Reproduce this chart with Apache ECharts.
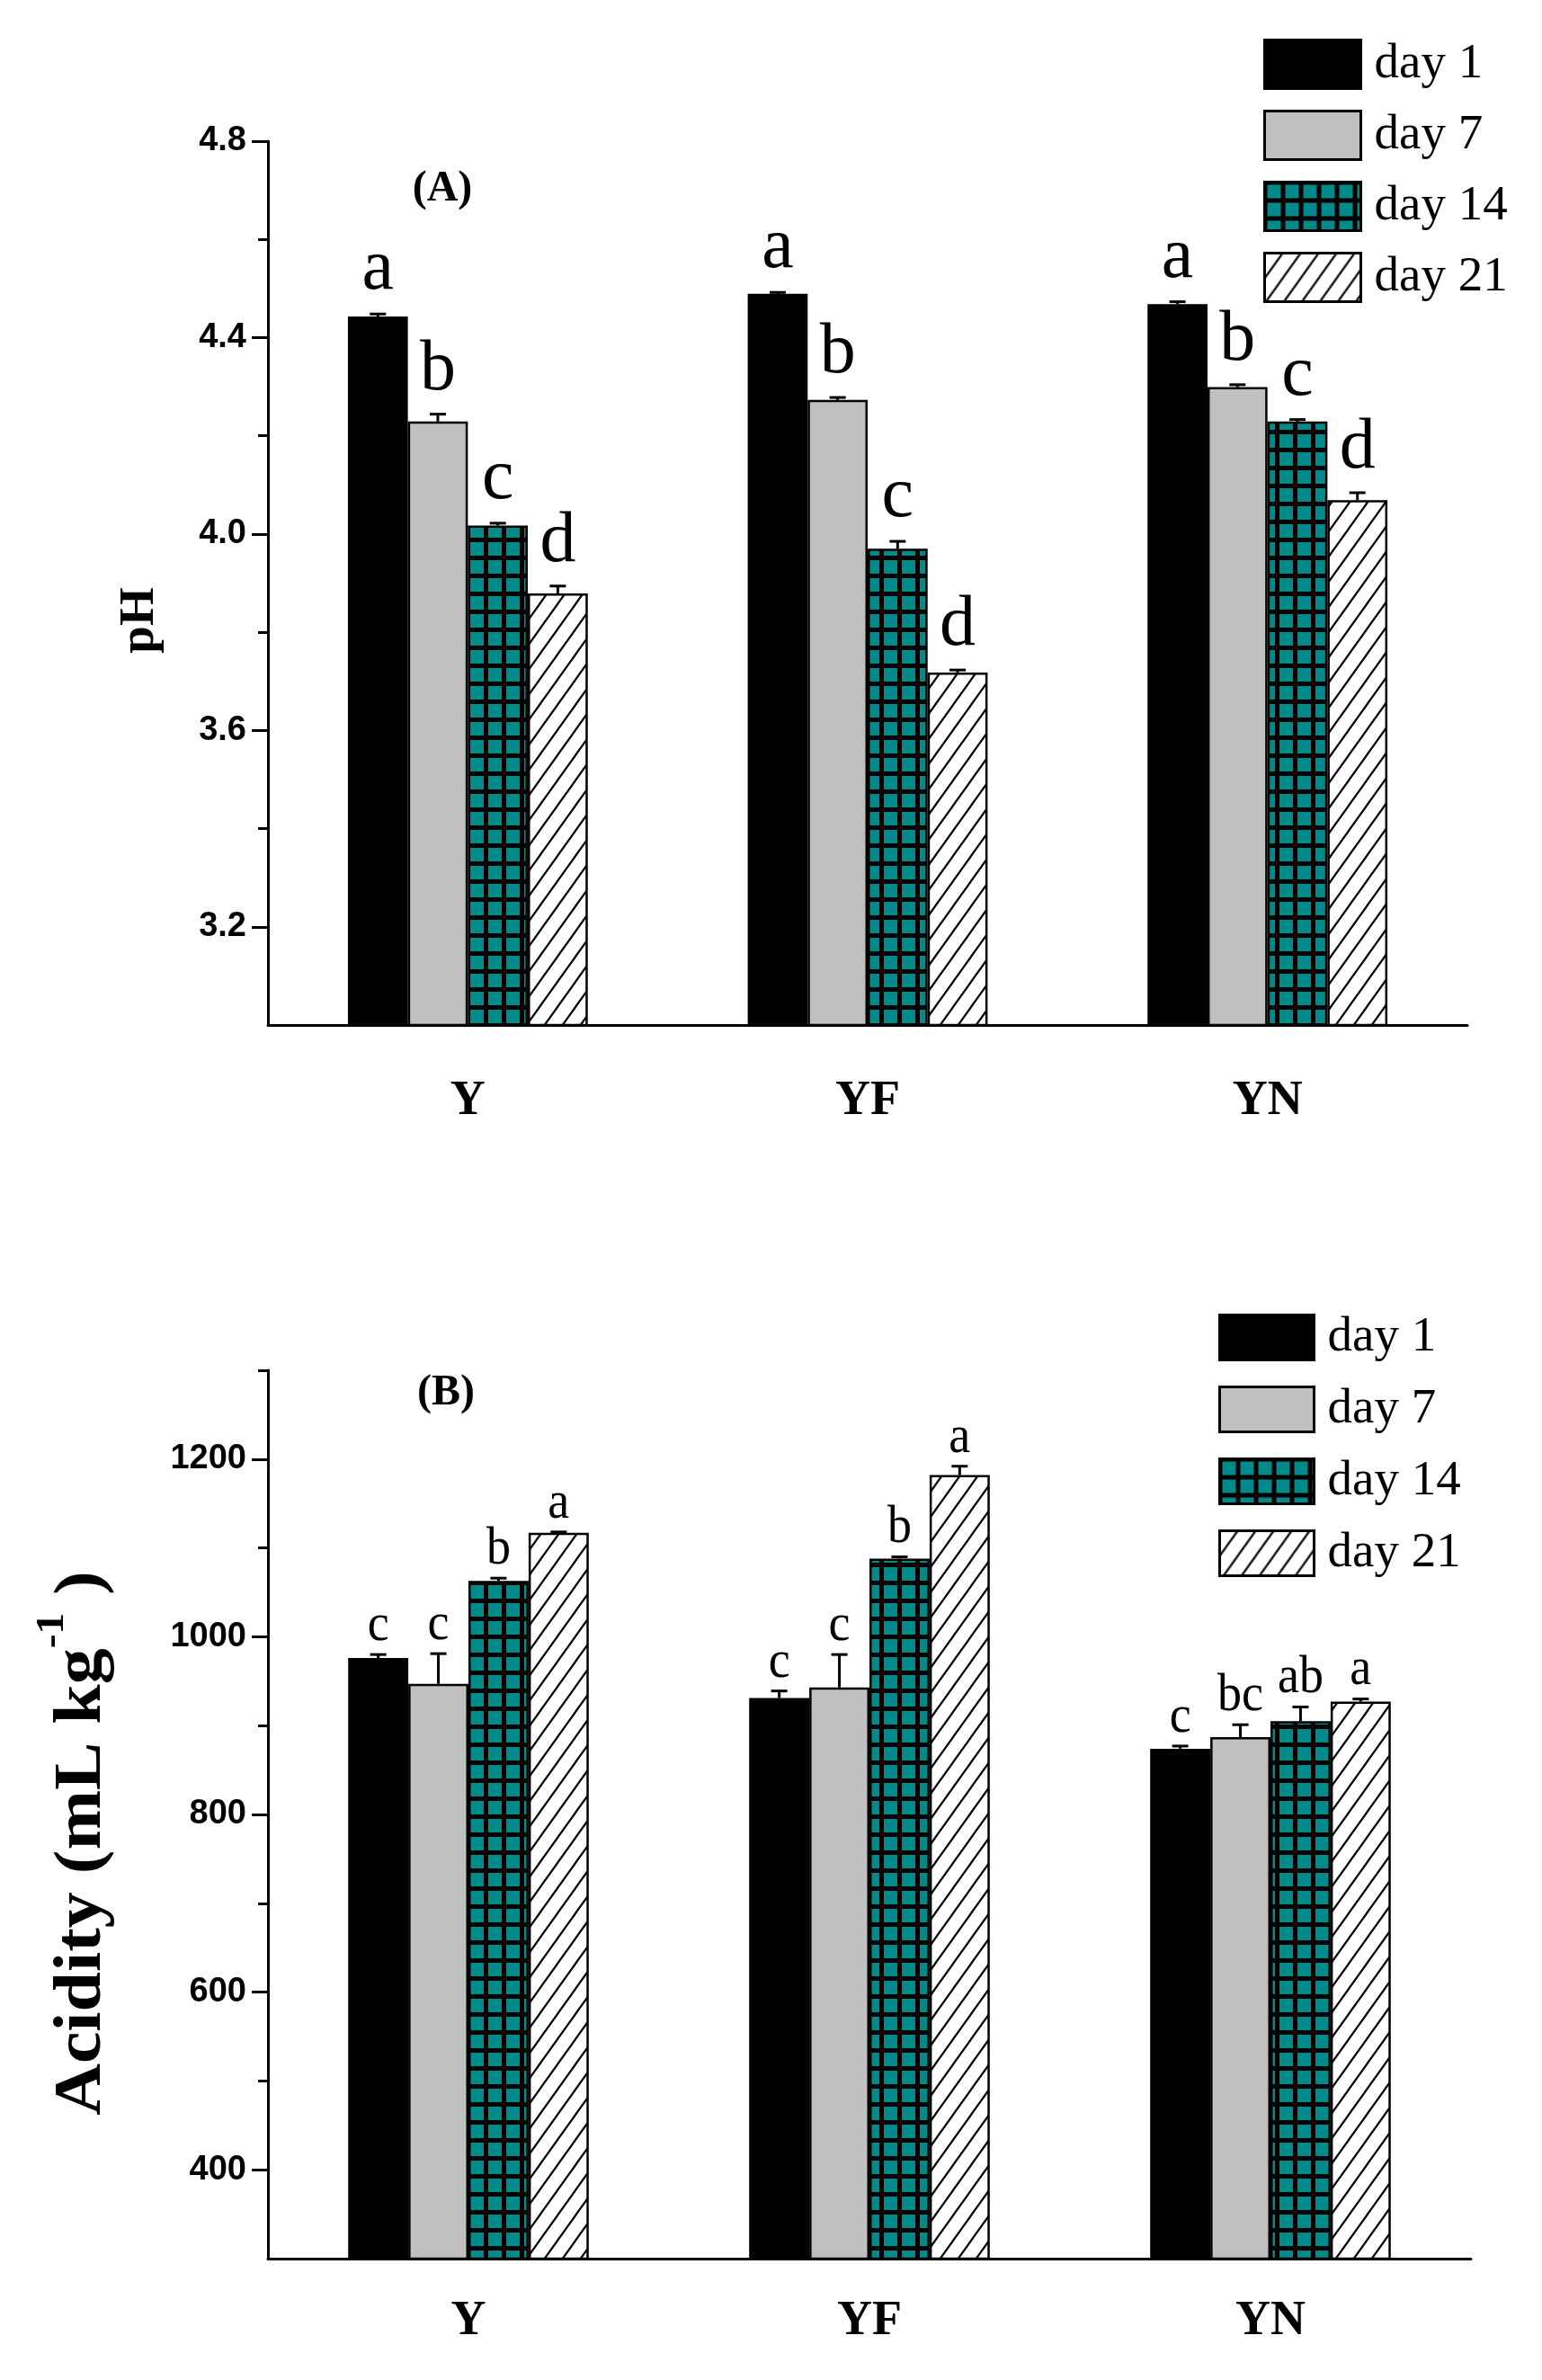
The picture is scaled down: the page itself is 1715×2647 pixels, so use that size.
<!DOCTYPE html>
<html>
<head>
<meta charset="utf-8">
<script src="https://cdn.jsdelivr.net/npm/echarts@6/dist/echarts.min.js"></script>
<style>
  html, body { margin: 0; padding: 0; background: #ffffff; }
  #chart { width: 1715px; height: 2647px; }
</style>
</head>
<body>
<div id="chart"></div>
<script>
// Two stacked panels: (A) pH, (B) titratable acidity, by silage group and day.

const groups = ['Y', 'YF', 'YN'];
const days = ['day 1', 'day 7', 'day 14', 'day 21'];

// (A) pH — one array per day, in group order
const phDay1  = [4.443, 4.489, 4.468];
const phDay7  = [4.229, 4.273, 4.299];
const phDay14 = [4.017, 3.970, 4.229];
const phDay21 = [3.879, 3.718, 4.069];
const phErr1  = [0.005, 0.003, 0.005];
const phErr7  = [0.015, 0.005, 0.005];
const phErr14 = [0.005, 0.015, 0.004];
const phErr21 = [0.015, 0.005, 0.015];
const phLetters = [['a', 'a', 'a'], ['b', 'b', 'b'], ['c', 'c', 'c'], ['d', 'd', 'd']];
const phTicks = [3.2, 3.6, 4.0, 4.4, 4.8];
const phMinorTicks = [3.4, 3.8, 4.2, 4.6];

// (B) acidity, mL kg-1
const acDay1  = [976, 931, 874];
const acDay7  = [947, 943, 887];
const acDay14 = [1063, 1088, 905];
const acDay21 = [1117, 1182, 927];
const acErr1  = [4, 8, 3];
const acErr7  = [34, 37, 14];
const acErr14 = [3, 2, 16];
const acErr21 = [1, 10, 3];
const acLetters = [['c', 'c', 'c'], ['c', 'c', 'bc'], ['b', 'b', 'ab'], ['a', 'a', 'a']];
const acTicks = [400, 600, 800, 1000, 1200];
const acMinorTicks = [500, 700, 900, 1100, 1300];

const phVals = [phDay1, phDay7, phDay14, phDay21];
const phErrs = [phErr1, phErr7, phErr14, phErr21];
const acVals = [acDay1, acDay7, acDay14, acDay21];
const acErrs = [acErr1, acErr7, acErr14, acErr21];

const SERIF = '"Liberation Serif", "Times New Roman", serif';
const SANS = '"Liberation Sans", Arial, sans-serif';
const TEAL = '#008a8a';
const GRAY = '#c0c0c0';

// Fill patterns: teal squares on black grid, and "/" hatch on white.
function gridTile() {
    const c = document.createElement('canvas');
    c.width = 20; c.height = 20;
    const g = c.getContext('2d');
    g.fillStyle = '#000';
    g.fillRect(0, 0, 20, 20);
    g.fillStyle = TEAL;
    g.fillRect(3, 3, 15, 15);
    return c;
}
function hatchTile() {
    const c = document.createElement('canvas');
    c.width = 20; c.height = 28;
    const g = c.getContext('2d');
    g.fillStyle = '#fff';
    g.fillRect(0, 0, 20, 28);
    g.strokeStyle = '#000';
    g.lineWidth = 2.2;
    g.beginPath();
    for (const x0 of [-20, 0, 20]) {
        g.moveTo(x0 - 5, 35);
        g.lineTo(x0 + 25, -7);
    }
    g.stroke();
    return c;
}
const fills = [
    '#000000',
    GRAY,
    { image: gridTile(), repeat: 'repeat' },
    { image: hatchTile(), repeat: 'repeat' }
];

const chart = echarts.init(document.getElementById('chart'), null, { renderer: 'canvas' });

function valueAxes(gridIndex, min, max, ticks, minor, fmt) {
    return [{
        gridIndex, type: 'value', position: 'left', min, max,
        axisLine: { show: true, lineStyle: { color: '#000', width: 3 } },
        axisTick: { show: true, length: 18, customValues: ticks, lineStyle: { color: '#000', width: 3 } },
        axisLabel: {
            customValues: ticks, formatter: fmt, margin: 24,
            fontSize: 38, fontWeight: 'bold', fontFamily: SANS, color: '#000'
        },
        splitLine: { show: false }
    }, {
        gridIndex, type: 'value', position: 'left', offset: 0, min, max,
        axisLine: { show: false },
        axisTick: { show: true, length: 11, customValues: minor, lineStyle: { color: '#000', width: 3 } },
        axisLabel: { show: false },
        splitLine: { show: false }
    }];
}

function catAxis(gridIndex, margin) {
    return {
        gridIndex, type: 'category', data: groups,
        axisLine: { lineStyle: { color: '#000', width: 3 } },
        axisTick: { inside: true, length: 8, lineStyle: { color: '#000', width: 3 } },
        axisLabel: { margin, fontSize: 54, fontWeight: 'bold', fontFamily: SERIF, color: '#000' }
    };
}

function barSeries(vals, xi, yi) {
    return vals.map((v, d) => ({
        type: 'bar', name: days[d], xAxisIndex: xi, yAxisIndex: yi, data: v,
        barGap: '0%', barCategoryGap: '40%',
        itemStyle: { color: fills[d], borderColor: '#000', borderWidth: 2.5 },
        emphasis: { disabled: true }
    }));
}

// Error bars (upper only, capped) plus the significance letters above them.
function errSeries(vals, errs, letters, xi, yi, font, scaleY, gap) {
    const rows = [];
    vals.forEach((v, d) => v.forEach((y, c) => rows.push([c, y, errs[d][c], d])));
    return {
        type: 'custom', xAxisIndex: xi, yAxisIndex: yi, data: rows, clip: false, z: 5,
        encode: { x: 0, y: 1 },
        renderItem: (params, api) => {
            const c = api.value(0), v = api.value(1), e = api.value(2), d = api.value(3);
            const band = api.size([1, 0])[0];
            const barW = band * 0.6 / 4;
            const base = api.coord([c, v]);
            const cx = base[0] - band * 0.3 + (d + 0.5) * barW;
            const yTop = base[1];
            const yErr = api.coord([c, v + e])[1];
            return {
                type: 'group',
                children: [
                    { type: 'line', shape: { x1: cx, y1: yTop, x2: cx, y2: yErr },
                      style: { stroke: '#000', lineWidth: 3 } },
                    { type: 'line', shape: { x1: cx - 9, y1: yErr, x2: cx + 9, y2: yErr },
                      style: { stroke: '#000', lineWidth: 3 } },
                    { type: 'text', x: cx, y: yErr - gap, scaleY,
                      style: { text: letters[d][c], fontSize: font, fontFamily: SERIF,
                               fill: '#000', align: 'center', verticalAlign: 'bottom' } }
                ]
            };
        }
    };
}

function legendAt(left, top, w, h, gap) {
    return {
        data: days, orient: 'vertical', left, top, padding: 0,
        itemWidth: w, itemHeight: h, itemGap: gap, icon: 'rect', selectedMode: false,
        itemStyle: { borderColor: '#000', borderWidth: 3 },
        textStyle: { fontSize: 55, fontFamily: SERIF, color: '#000', padding: [0, 0, 0, 10] }
    };
}

const axesA = valueAxes(0, 3.0, 4.8, phTicks, phMinorTicks, v => v.toFixed(1));
const axesB = valueAxes(1, 300, 1300, acTicks, acMinorTicks, v => String(v));

chart.setOption({
    animation: false,
    backgroundColor: '#ffffff',
    grid: [
        { left: 298, top: 157, width: 1334, height: 983 },
        { left: 298, top: 1524, width: 1338, height: 988 }
    ],
    xAxis: [catAxis(0, 58), catAxis(1, 43)],
    yAxis: [...axesA, ...axesB],
    legend: [
        legendAt(1405, 43, 107, 54, 22),
        legendAt(1355, 1460, 105, 50, 25)
    ],
    graphic: [
        { type: 'text', x: 492, y: 211,
          style: { text: '(A)', fontSize: 48, fontWeight: 'bold', fontFamily: SERIF,
                   fill: '#000', align: 'center', verticalAlign: 'middle' } },
        { type: 'text', x: 496, y: 1550,
          style: { text: '(B)', fontSize: 48, fontWeight: 'bold', fontFamily: SERIF,
                   fill: '#000', align: 'center', verticalAlign: 'middle' } },
        { type: 'text', x: 156, y: 690, rotation: Math.PI / 2,
          style: { text: 'pH', fontSize: 55, fontWeight: 'bold', fontFamily: SERIF,
                   fill: '#000', align: 'center', verticalAlign: 'middle' } },
        { type: 'text', x: 92, y: 2050, rotation: Math.PI / 2, scaleX: 1.08,
          style: {
              text: '{m|Acidity (mL kg}{s|-1}{m| )}',
              align: 'center', verticalAlign: 'middle', fill: '#000',
              rich: {
                  m: { fontSize: 74, fontWeight: 'bold', fontFamily: SERIF, lineHeight: 110, fill: '#000' },
                  s: { fontSize: 44, fontWeight: 'bold', fontFamily: SERIF, verticalAlign: 'top', fill: '#000' }
              }
          } }
    ],
    series: [
        ...barSeries(phVals, 0, 0),
        ...barSeries(acVals, 1, 2),
        errSeries(phVals, phErrs, phLetters, 0, 0, 80, 1.0, 9),
        errSeries(acVals, acErrs, acLetters, 1, 2, 54, 1.1, 2)
    ]
});
</script>
</body>
</html>
